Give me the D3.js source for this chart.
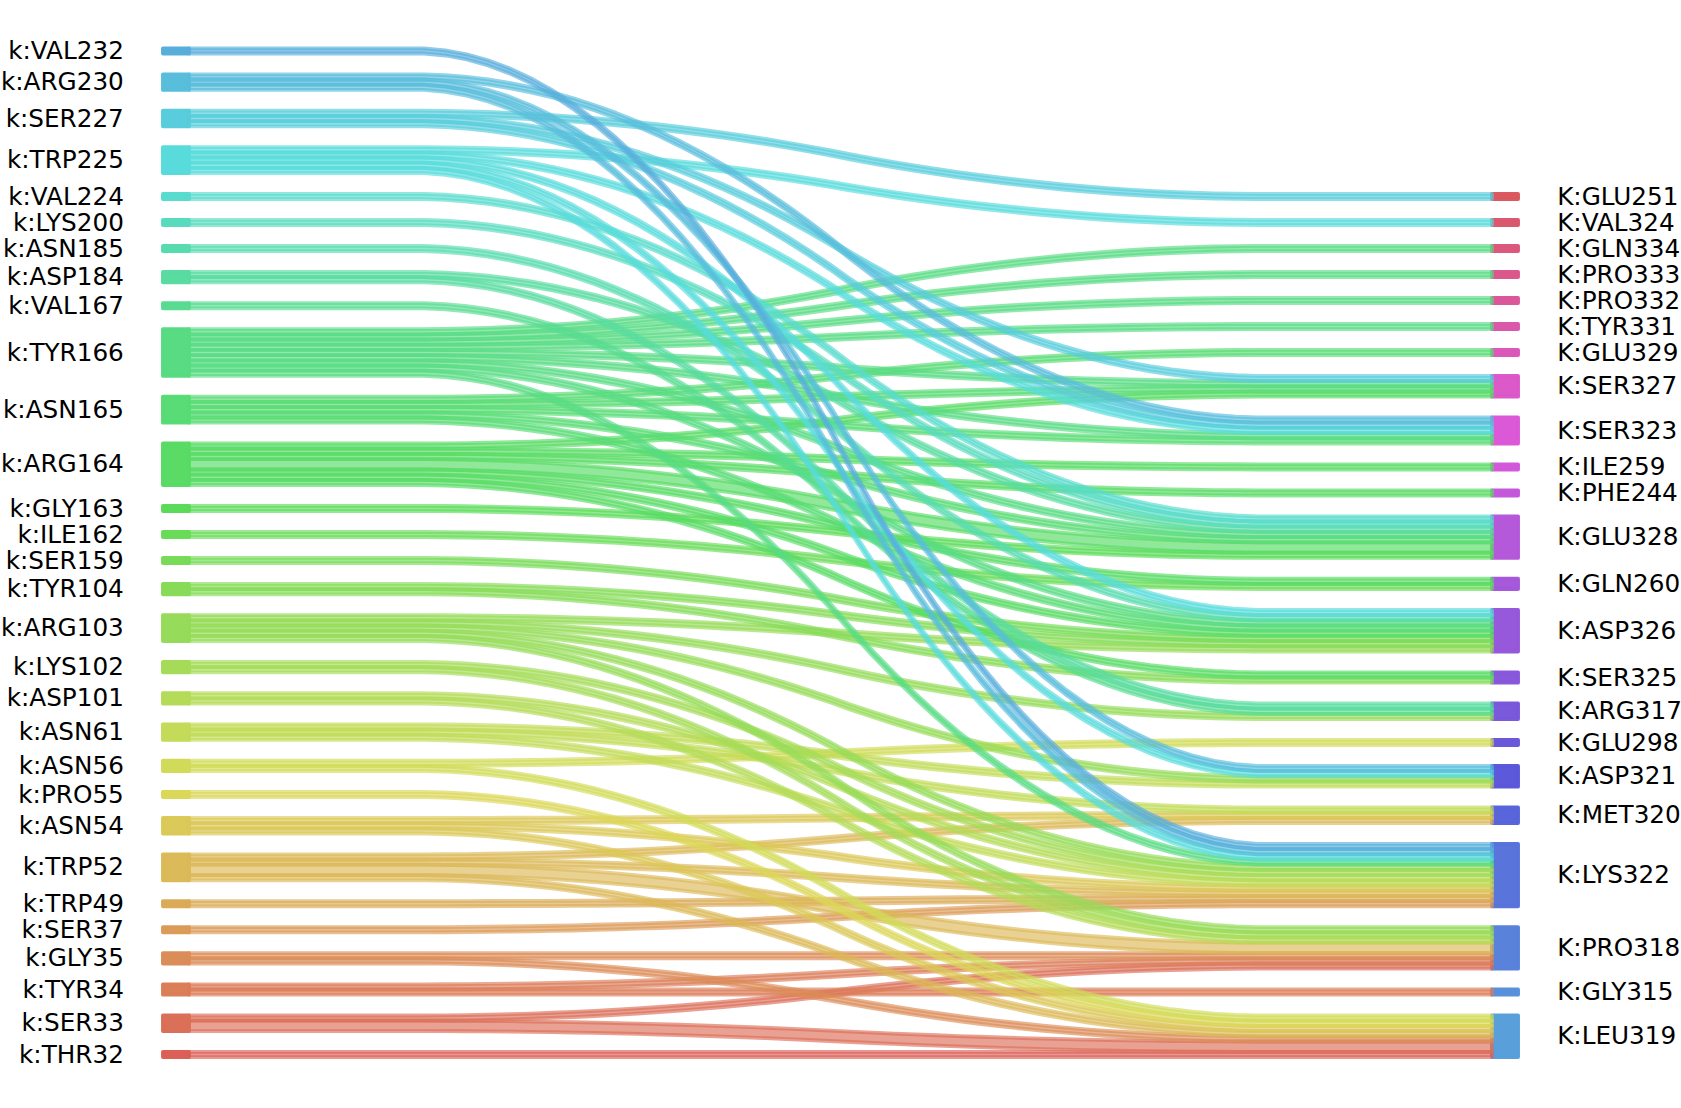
<!DOCTYPE html>
<html>
<head>
<meta charset="utf-8">
<script src="https://cdn.jsdelivr.net/npm/d3@7"></script>
<style>
  html, body { margin: 0; padding: 0; background: #ffffff; }
  svg { display: block; }
</style>
</head>
<body>
<div id="chart"></div>
<script>
// ---------------- DATA ----------------
// left residues (top to bottom as drawn)
const leftLabels = ["VAL232","ARG230","SER227","TRP225","VAL224","LYS200","ASN185","ASP184","VAL167",
  "TYR166","ASN165","ARG164","GLY163","ILE162","SER159","TYR104","ARG103","LYS102","ASP101","ASN61",
  "ASN56","PRO55","ASN54","TRP52","TRP49","SER37","GLY35","TYR34","SER33","THR32"];
// right residues (top to bottom as drawn)
const rightLabels = ["GLU251","VAL324","GLN334","PRO333","PRO332","TYR331","GLU329","SER327","SER323",
  "ILE259","PHE244","GLU328","GLN260","ASP326","SER325","ARG317","GLU298","ASP321","MET320","LYS322",
  "PRO318","GLY315","LEU319"];
const leftPrefix = "k:";
const rightPrefix = "K:";
// links: [left, right, weight]
const links = [
  ["VAL232","LYS322",1],
  ["ARG230","SER323",1],["ARG230","ASP321",1],["ARG230","LYS322",1],
  ["SER227","GLU251",1],["SER227","SER327",1],["SER227","SER323",1],
  ["TRP225","VAL324",1],["TRP225","SER323",1],["TRP225","ASP326",1],["TRP225","ASP321",1],["TRP225","LYS322",1],
  ["VAL224","GLU328",1],
  ["LYS200","GLU328",1],
  ["ASN185","ASP326",1],
  ["ASP184","GLU328",1],["ASP184","ARG317",1],
  ["VAL167","ARG317",1],
  ["TYR166","GLN334",1],["TYR166","PRO333",1],["TYR166","PRO332",1],["TYR166","TYR331",1],["TYR166","SER327",1],
  ["TYR166","SER323",1],["TYR166","GLU328",1],["TYR166","ASP326",1],["TYR166","LYS322",1],
  ["ASN165","GLU329",1],["ASN165","SER327",1],["ASN165","SER323",1],["ASN165","GLU328",1],["ASN165","ASP326",1],
  ["ARG164","SER327",1],["ARG164","ILE259",1],["ARG164","PHE244",1],["ARG164","GLU328",2],["ARG164","GLN260",1],
  ["ARG164","ASP326",1],["ARG164","SER325",1],
  ["GLY163","GLU328",1],
  ["ILE162","GLN260",1],
  ["SER159","ASP326",1],
  ["TYR104","ASP326",1],["TYR104","SER325",1],
  ["ARG103","ASP326",1],["ARG103","ARG317",1],["ARG103","ASP321",1],["ARG103","LYS322",1],["ARG103","PRO318",1],
  ["LYS102","LYS322",1],["LYS102","PRO318",1],
  ["ASP101","LYS322",1],["ASP101","PRO318",1],
  ["ASN61","ASP321",1],["ASN61","MET320",1],["ASN61","LYS322",1],
  ["ASN56","GLU298",1],["ASN56","LEU319",1],
  ["PRO55","LEU319",1],
  ["ASN54","MET320",1],["ASN54","LYS322",1],["ASN54","LEU319",1],
  ["TRP52","MET320",1],["TRP52","LYS322",1],["TRP52","PRO318",2],["TRP52","LEU319",1],
  ["TRP49","LYS322",1],
  ["SER37","LYS322",1],
  ["GLY35","PRO318",1],["GLY35","LEU319",1],
  ["TYR34","PRO318",1],["TYR34","GLY315",1],
  ["SER33","PRO318",1],["SER33","LEU319",2],
  ["THR32","LEU319",1]
];

// ---------------- LAYOUT ----------------
const W = 1681, H = 1108;
const GAP = 4;                 // gap between bars, in weight units
const svg = d3.select("#chart").append("svg").attr("width", W).attr("height", H);
svg.append("rect").attr("width", W).attr("height", H).attr("fill", "#fff");

const xScale = d3.scaleLinear().domain([0, 1]).range([189, 1492]);
const yScale = d3.scaleLinear().domain([0, 200]).range([1057.1, 1057.1 - 200 * 5.2]);

const leftW = {}, rightW = {};
links.forEach(([s, t, v]) => {
  leftW[s] = (leftW[s] || 0) + v;
  rightW[t] = (rightW[t] || 0) + v;
});

function stack(labels, weights) {
  const pos = {};
  let b = 0;
  labels.slice().reverse().forEach((l, i) => {
    if (i > 0) b += GAP;
    pos[l] = { bottom: b, top: b + weights[l], cur: b };
    b += weights[l];
  });
  return pos;
}
const leftPos = stack(leftLabels, leftW);
const rightPos = stack(rightLabels, rightW);

// colours: hls palette over all labels (bottom-first order)
const allLabels = leftLabels.slice().reverse().concat(rightLabels.slice().reverse());
const nCol = allLabels.length;
const colorOf = {};
allLabels.forEach((l, i) => {
  const h = ((i / nCol + 0.01) % 1) * 360;
  colorOf[l] = d3.hsl(h, 0.65, 0.6).formatHex();
});

const STROKE = 3.8;

// ---------------- BARS ----------------
const gBars = svg.append("g");
function drawBars(labels, pos, x0, x1) {
  gBars.selectAll(null).data(labels).enter().append("rect")
    .attr("x", xScale(x0))
    .attr("width", xScale(x1) - xScale(x0))
    .attr("y", d => yScale(pos[d].top))
    .attr("height", d => yScale(pos[d].bottom) - yScale(pos[d].top))
    .attr("fill", d => colorOf[d])
    .attr("fill-opacity", 0.99)
    .attr("stroke", d => colorOf[d])
    .attr("stroke-opacity", 0.99)
    .attr("stroke-width", STROKE)
    .attr("stroke-linejoin", "round");
}
drawBars(leftLabels, leftPos, -0.02, 0);
drawBars(rightLabels, rightPos, 1, 1.02);

// ---------------- LABELS ----------------
const gText = svg.append("g")
  .attr("font-family", "'DejaVu Sans', sans-serif")
  .attr("font-size", 24.7)
  .attr("fill", "#000");
gText.selectAll(null).data(leftLabels).enter().append("text")
  .attr("x", xScale(-0.05))
  .attr("y", d => yScale((leftPos[d].top + leftPos[d].bottom) / 2) + 8)
  .attr("text-anchor", "end")
  .text(d => leftPrefix + d);
gText.selectAll(null).data(rightLabels).enter().append("text")
  .attr("x", xScale(1.05))
  .attr("y", d => yScale((rightPos[d].top + rightPos[d].bottom) / 2) + 8)
  .attr("text-anchor", "start")
  .text(d => rightPrefix + d);

// ---------------- STRIPS ----------------
function smooth(a, b) {
  let arr = new Array(50).fill(a).concat(new Array(50).fill(b));
  for (let pass = 0; pass < 2; pass++) {
    const out = [];
    for (let i = 0; i + 20 <= arr.length; i++) {
      let s = 0;
      for (let j = 0; j < 20; j++) s += arr[i + j];
      out.push(s * 0.05);
    }
    arr = out;
  }
  return arr;
}
const linkMap = {};
links.forEach(([s, t, v]) => { linkMap[s + "|" + t] = v; });

const strips = [];
leftLabels.slice().reverse().forEach(l => {
  rightLabels.slice().reverse().forEach(r => {
    const v = linkMap[l + "|" + r];
    if (!v) return;
    const lb = leftPos[l].cur, rb = rightPos[r].cur;
    const yd = smooth(lb, rb);
    const yu = smooth(lb + v, rb + v);
    leftPos[l].cur += v;
    rightPos[r].cur += v;
    strips.push({ color: colorOf[l], pts: yd.map((d, i) => [d, yu[i]]) });
  });
});

const area = d3.area()
  .x((d, i, arr) => xScale(i / (arr.length - 1)))
  .y0(d => yScale(d[0]))
  .y1(d => yScale(d[1]));

svg.append("g").selectAll(null).data(strips).enter().append("path")
  .attr("d", d => area(d.pts))
  .attr("fill", d => d.color)
  .attr("fill-opacity", 0.65)
  .attr("stroke", d => d.color)
  .attr("stroke-opacity", 0.65)
  .attr("stroke-width", STROKE)
  .attr("stroke-linejoin", "round");
</script>
</body>
</html>
